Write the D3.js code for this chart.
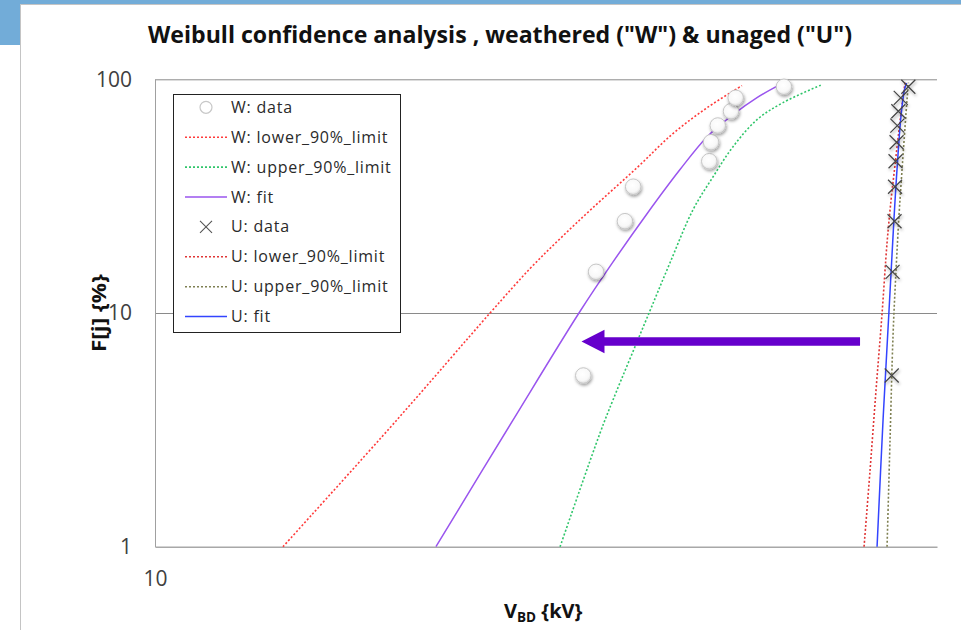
<!DOCTYPE html>
<html><head><meta charset="utf-8">
<script src="https://cdn.jsdelivr.net/npm/d3@7"></script>
<style>body{margin:0;background:#fff;} svg{display:block;font-family:"Open Sans",sans-serif;}</style>
</head><body><svg id="c" width="961" height="630"></svg>
<script>
// ---------- data ----------
const fPos   = [5.4, 15, 24.7, 34.7, 44.6, 53.8, 63.4, 73, 83.3, 92.9];           // F[j] %
const wData  = [29.03, 29.97, 32.2, 32.87, 39.72, 39.9, 40.57, 41.93, 42.42, 47.83]; // kV
const uData  = [62.54, 62.67, 62.98, 63.06, 63.14, 63.3, 63.42, 63.58, 63.96, 65.18];

const wLowerV = [13.75, 18.26, 23.02, 25.43, 27.40, 29.67, 33.19, 36.29, 39.51, 43.09];
const wLowerF = [1, 3.49, 10, 15.5, 20.8, 28.0, 41.9, 58.6, 75.6, 94.0];
const wUpperV = [27.40, 30.27, 31.26, 34.19, 36.02, 38.15, 40.10, 42.14, 44.73, 47.72, 52.59];
const wUpperF = [1, 3.07, 4.25, 10, 16.4, 27.7, 38.3, 51.5, 67.2, 79.5, 94.9];
const wFitV   = [20.12, 24.38, 28.72, 31.18, 34.02, 36.93, 39.51, 42.14, 44.73, 47.36];
const wFitF   = [1, 3.49, 10, 16.3, 26.6, 41.1, 56.8, 70.6, 83.5, 94.9];

const uLowerV = [58.38, 59.26, 60.15, 61.06, 61.82, 62.44, 63.06, 63.69, 64.17, 64.65];
const uLowerF = [1, 2.13, 4.69, 10, 20.0, 30.5, 43.1, 60.9, 77.9, 96.8];
const uUpperV = [61.82, 62.28, 62.75, 63.22, 63.69, 64.17, 64.65, 64.97, 65.21];
const uUpperF = [1, 2.86, 8.07, 15.3, 26.3, 41.1, 62.7, 81.9, 96.8];
const uFitV   = [60.30, 61.21, 62.10, 62.69, 63.05, 63.58, 64.01, 64.54, 64.90];
const uFitF   = [1, 3.5, 10, 20, 30, 50, 70, 90, 96.5];

const yTicks = [1, 10, 100];
const xTicks = [10];
const arrowV = [57.8, 28.9];
const arrowF = 7.55;

const legendNames = ["W: data", "W: lower_90%_limit", "W: upper_90%_limit", "W: fit",
                     "U: data", "U: lower_90%_limit", "U: upper_90%_limit", "U: fit"];

// ---------- setup ----------
const svg = d3.select("#c");
const pL = 155, pR = 937, pT = 79.3, pB = 546.7;
const x = d3.scaleLog().domain([10, 70]).range([pL, pR]);
const y = d3.scaleLog().domain([1, 100]).range([pB, pT]);

const defs = svg.append("defs");
const sh = defs.append("filter").attr("id", "sh").attr("x", "-50%").attr("y", "-50%").attr("width", "200%").attr("height", "200%");
sh.append("feDropShadow").attr("dx", 0.8).attr("dy", 1.8).attr("stdDeviation", 1.6)
  .attr("flood-color", "#000").attr("flood-opacity", 0.38);
const rg = defs.append("radialGradient").attr("id", "rg").attr("cx", "45%").attr("cy", "40%").attr("r", "60%");
rg.append("stop").attr("offset", "0%").attr("stop-color", "#ffffff");
rg.append("stop").attr("offset", "70%").attr("stop-color", "#f8f8f8");
rg.append("stop").attr("offset", "100%").attr("stop-color", "#dcdcdc");

// slide frame
svg.append("rect").attr("x", 0).attr("y", 0).attr("width", 961).attr("height", 4.5).attr("fill", "#72acd8");
svg.append("rect").attr("x", 0).attr("y", 0).attr("width", 20).attr("height", 45).attr("fill", "#72acd8");
svg.append("path").attr("d", "M20.5,630V4.5H961").attr("fill", "none").attr("stroke", "#c4c4c4").attr("stroke-width", 1);

// title
svg.append("text").attr("x", 500).attr("y", 43).attr("text-anchor", "middle")
  .attr("font-size", 23).attr("font-weight", "bold").attr("fill", "#111")
  .attr("textLength", 704).attr("lengthAdjust", "spacingAndGlyphs")
  .text('Weibull confidence analysis , weathered ("W") & unaged ("U")');

// gridlines
const grid = svg.append("g").attr("transform", `translate(${pL},0)`)
  .call(d3.axisLeft(y).tickValues([10, 100]).tickSize(-(pR - pL)).tickFormat(""));
grid.select(".domain").remove();
grid.selectAll("line").attr("stroke", "#8a8a8a").attr("stroke-width", 1);

// y axis
const ya = svg.append("g").attr("transform", `translate(${pL},0)`)
  .call(d3.axisLeft(y).tickValues(yTicks).tickSize(0).tickPadding(23).tickFormat(d3.format("d")));
ya.select(".domain").attr("stroke", "#a0a0a0");
ya.selectAll("text").attr("font-family", "Open Sans").attr("font-size", 21).attr("fill", "#404040");

// x axis
const xa = svg.append("g").attr("transform", `translate(0,${pB})`)
  .call(d3.axisBottom(x).tickValues(xTicks).tickSize(0).tickPadding(24).tickFormat(d3.format("d")));
xa.select(".domain").attr("stroke", "#a8a8a8").attr("stroke-width", 1.5);
xa.selectAll("text").attr("font-family", "Open Sans").attr("font-size", 21).attr("fill", "#404040");

// axis titles
svg.append("text").attr("transform", "translate(106,313) rotate(-90)").attr("text-anchor", "middle")
  .attr("font-size", 19).attr("font-weight", "bold").attr("fill", "#111")
  .attr("textLength", 78).attr("lengthAdjust", "spacingAndGlyphs").text("F[j] {%}");
const xt = svg.append("text").attr("x", 504).attr("y", 618).attr("font-size", 20).attr("font-weight", "bold").attr("fill", "#111");
xt.append("tspan").text("V");
xt.append("tspan").attr("font-size", 13.5).attr("dy", 4).text("BD");
xt.append("tspan").attr("dy", -4).text(" {kV}");

// series lines
const line = d3.line().x(d => x(d[0])).y(d => y(d[1])).curve(d3.curveCatmullRom.alpha(0.5));
const zip = (a, b) => a.map((v, i) => [v, b[i]]);
const series = [
  {v: wLowerV, f: wLowerF, color: "#ff3b3b", dash: "2,2", w: 1.6},
  {v: wUpperV, f: wUpperF, color: "#2fc56a", dash: "2,2", w: 1.6},
  {v: wFitV,   f: wFitF,   color: "#9a55ee", dash: null,  w: 1.5},
  {v: uLowerV, f: uLowerF, color: "#e03636", dash: "2,2", w: 1.6},
  {v: uUpperV, f: uUpperF, color: "#7f8052", dash: "2,2", w: 1.6},
  {v: uFitV,   f: uFitF,   color: "#3344ff", dash: null,  w: 1.5}
];
svg.append("g").selectAll("path").data(series).join("path")
  .attr("d", s => line(zip(s.v, s.f))).attr("fill", "none")
  .attr("stroke", s => s.color).attr("stroke-width", s => s.w)
  .attr("stroke-dasharray", s => s.dash);

// W data circles
svg.append("g").selectAll("circle").data(zip(wData, fPos)).join("circle")
  .attr("cx", d => x(d[0])).attr("cy", d => y(d[1])).attr("r", 7.8)
  .attr("fill", "url(#rg)").attr("stroke", "#c6c6c6").attr("stroke-width", 1)
  .attr("filter", "url(#sh)");

// U data crosses
const xm = (cx, cy, s) => `M${cx - s},${cy - s}L${cx + s},${cy + s}M${cx - s},${cy + s}L${cx + s},${cy - s}`;
svg.append("g").selectAll("path").data(zip(uData, fPos)).join("path")
  .attr("d", d => xm(x(d[0]), y(d[1]), 7)).attr("stroke", "#444").attr("stroke-width", 1.2)
  .attr("fill", "none").attr("filter", "url(#sh)");

// arrow
const ax0 = x(arrowV[0]), ax1 = x(arrowV[1]), ay = y(arrowF);
svg.append("path")
  .attr("d", `M${ax0},${ay - 4.2}L${ax1 + 23},${ay - 4.2}L${ax1 + 23},${ay - 11.7}L${ax1},${ay}L${ax1 + 23},${ay + 11.7}L${ax1 + 23},${ay + 4.2}L${ax0},${ay + 4.2}Z`)
  .attr("fill", "#6600cc");

// legend
const lg = svg.append("g");
lg.append("rect").attr("x", 173.5).attr("y", 94.5).attr("width", 227).attr("height", 238)
  .attr("fill", "#fff").attr("stroke", "#222").attr("stroke-width", 1);
const legendStyle = [null, series[0], series[1], series[2], null, series[3], series[4], series[5]];
legendNames.forEach((name, i) => {
  const ry = 107.3 + i * 29.9;
  const st = legendStyle[i];
  if (st) {
    lg.append("line").attr("x1", 185).attr("x2", 227).attr("y1", ry).attr("y2", ry)
      .attr("stroke", st.color).attr("stroke-width", st.w).attr("stroke-dasharray", st.dash);
  } else if (i === 0) {
    lg.append("circle").attr("cx", 206).attr("cy", ry).attr("r", 6).attr("fill", "#fff")
      .attr("stroke", "#c8c8c8").attr("stroke-width", 1.2);
  } else {
    lg.append("path").attr("d", xm(206, ry, 6)).attr("stroke", "#555").attr("stroke-width", 1.1);
  }
  lg.append("text").attr("x", 231).attr("y", ry + 5.5).attr("font-size", 16)
    .attr("letter-spacing", 0.8).attr("fill", "#2a2a2a").text(name);
});
</script></body></html>
